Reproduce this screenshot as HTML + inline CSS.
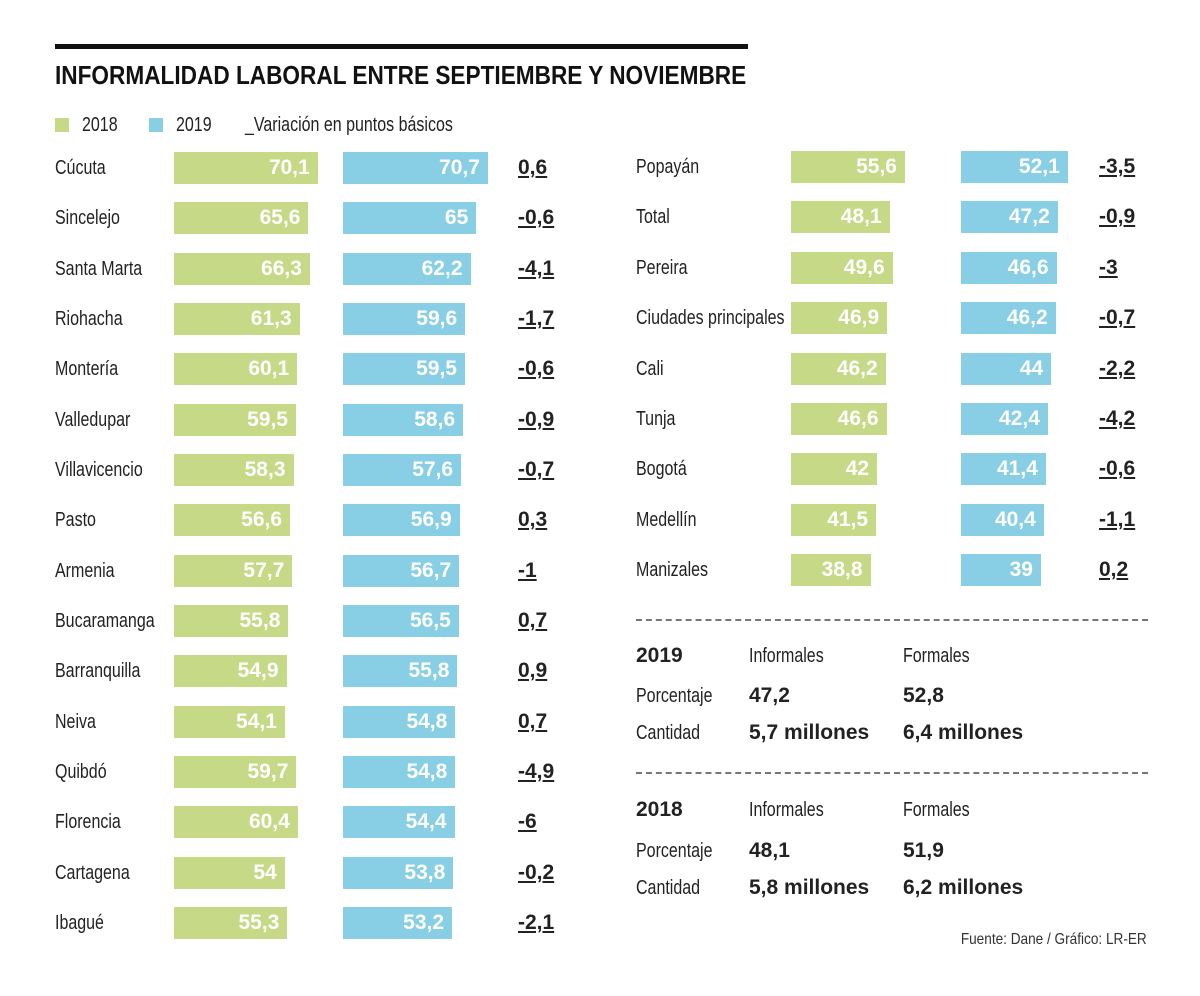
<!DOCTYPE html>
<html><head><meta charset="utf-8"><style>
body{margin:0;background:#fff;}
#c{position:relative;width:1200px;height:996px;overflow:hidden;font-family:"Liberation Sans",sans-serif;color:#222;}
.a{position:absolute;white-space:nowrap;}
.n{transform:scaleX(0.8);transform-origin:left center;}
.lbl{font-size:20px;line-height:32px;}
.bar{position:absolute;height:32px;color:#fff;font-weight:bold;font-size:21px;line-height:32px;text-align:right;box-sizing:border-box;padding-right:8px;}
.g{background:#c6d987;}.b{background:#88cfe5;}
.var{font-size:21px;font-weight:bold;text-decoration:underline;line-height:32px;}
.dash{position:absolute;left:636px;width:512px;border-top:2px dashed #777;height:0;}
.hd{font-size:21px;font-weight:bold;}
.t{font-size:20px;}
.tb{font-size:21px;font-weight:bold;}
</style></head><body>
<div id="c">
<div class="a" style="left:55px;top:44px;width:693px;height:5px;background:#111"></div>
<div class="a" style="left:55px;top:60px;font-size:26px;font-weight:bold;color:#111;transform:scaleX(0.87);transform-origin:left center">INFORMALIDAD LABORAL ENTRE SEPTIEMBRE Y NOVIEMBRE</div>
<div class="a" style="left:55px;top:118px;width:14px;height:14px;background:#c6d987"></div>
<div class="a t n" style="left:82px;top:114px">2018</div>
<div class="a" style="left:149px;top:118px;width:14px;height:14px;background:#88cfe5"></div>
<div class="a t n" style="left:176px;top:114px">2019</div>
<div class="a t n" style="left:245px;top:114px">_Variación en puntos básicos</div>
<div class="dash" style="top:619px"></div>
<div class="dash" style="top:772px"></div>
<div class="a hd" style="left:636px;top:644px">2019</div>
<div class="a t n" style="left:749px;top:645px">Informales</div>
<div class="a t n" style="left:903px;top:645px">Formales</div>
<div class="a t n" style="left:636px;top:685px">Porcentaje</div>
<div class="a tb" style="left:749px;top:684px">47,2</div>
<div class="a tb" style="left:903px;top:684px">52,8</div>
<div class="a t n" style="left:636px;top:722px">Cantidad</div>
<div class="a tb" style="left:749px;top:721px">5,7 millones</div>
<div class="a tb" style="left:903px;top:721px">6,4 millones</div>
<div class="a hd" style="left:636px;top:798px">2018</div>
<div class="a t n" style="left:749px;top:799px">Informales</div>
<div class="a t n" style="left:903px;top:799px">Formales</div>
<div class="a t n" style="left:636px;top:840px">Porcentaje</div>
<div class="a tb" style="left:749px;top:839px">48,1</div>
<div class="a tb" style="left:903px;top:839px">51,9</div>
<div class="a t n" style="left:636px;top:877px">Cantidad</div>
<div class="a tb" style="left:749px;top:876px">5,8 millones</div>
<div class="a tb" style="left:903px;top:876px">6,2 millones</div>
<div class="a" style="right:53px;top:931px;font-size:16px;color:#333;transform:scaleX(0.85);transform-origin:right center">Fuente: Dane / Gráfico: LR-ER</div>
</div>
<script>
const leftCities=["Cúcuta","Sincelejo","Santa Marta","Riohacha","Montería","Valledupar","Villavicencio","Pasto","Armenia","Bucaramanga","Barranquilla","Neiva","Quibdó","Florencia","Cartagena","Ibagué"];
const left2018=[70.1,65.6,66.3,61.3,60.1,59.5,58.3,56.6,57.7,55.8,54.9,54.1,59.7,60.4,54,55.3];
const left2019=[70.7,65,62.2,59.6,59.5,58.6,57.6,56.9,56.7,56.5,55.8,54.8,54.8,54.4,53.8,53.2];
const leftVar=["0,6","-0,6","-4,1","-1,7","-0,6","-0,9","-0,7","0,3","-1","0,7","0,9","0,7","-4,9","-6","-0,2","-2,1"];
const rightCities=["Popayán","Total","Pereira","Ciudades principales","Cali","Tunja","Bogotá","Medellín","Manizales"];
const right2018=[55.6,48.1,49.6,46.9,46.2,46.6,42,41.5,38.8];
const right2019=[52.1,47.2,46.6,46.2,44,42.4,41.4,40.4,39];
const rightVar=["-3,5","-0,9","-3","-0,7","-2,2","-4,2","-0,6","-1,1","0,2"];
const c=document.getElementById('c');
const scale=v=>v*2.05;
const fmt=v=>String(v).replace('.',',');
function panel(cities,d18,d19,vars,lx,x18,x19,xv,y0,step){
  cities.forEach((name,i)=>{
    const y=y0+i*step;
    let l=document.createElement('div');l.className='a lbl n';l.style.left=lx+'px';l.style.top=y+'px';l.textContent=name;
    
    
    c.appendChild(l);
    let a=document.createElement('div');a.className='bar g';a.style.left=x18+'px';a.style.top=y+'px';a.style.width=scale(d18[i])+'px';a.textContent=fmt(d18[i]);
    
    
    c.appendChild(a);
    let b=document.createElement('div');b.className='bar b';b.style.left=x19+'px';b.style.top=y+'px';b.style.width=scale(d19[i])+'px';b.textContent=fmt(d19[i]);
    
    
    c.appendChild(b);
    let v=document.createElement('div');v.className='a var';v.style.left=xv+'px';v.style.top=y+'px';v.textContent=vars[i];
    
    
    c.appendChild(v);
  });
}
panel(leftCities,left2018,left2019,leftVar,55,174,343,518,152,50.33);
panel(rightCities,right2018,right2019,rightVar,636,791,961,1099,151,50.4);
</script>
</body></html>
